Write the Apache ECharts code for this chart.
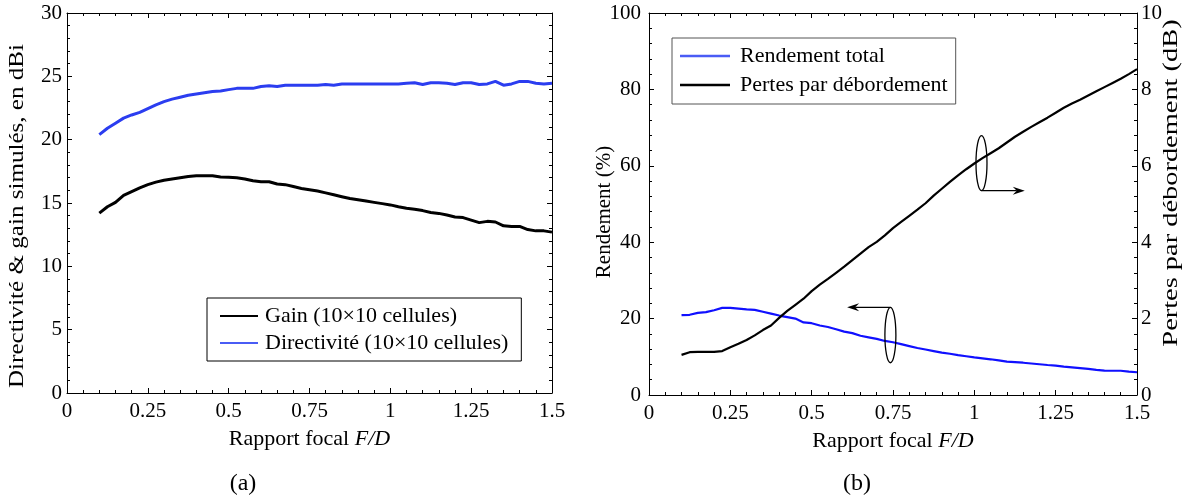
<!DOCTYPE html>
<html><head><meta charset="utf-8">
<script src="https://cdn.jsdelivr.net/npm/echarts@6/dist/echarts.min.js"></script>
<style>html,body{margin:0;padding:0;background:#fff}#c{width:1192px;height:499px}</style>
</head><body><div id="c"></div>
<script>
// ---- Panel (a) ----
const xA = [0.1,0.125,0.15,0.175,0.2,0.225,0.25,0.275,0.3,0.325,0.35,0.375,0.4,0.425,0.45,0.475,0.5,0.525,0.55,0.575,0.6,0.625,0.65,0.675,0.7,0.725,0.75,0.775,0.8,0.825,0.85,0.875,0.9,0.925,0.95,0.975,1.0,1.025,1.05,1.075,1.1,1.125,1.15,1.175,1.2,1.225,1.25,1.275,1.3,1.325,1.35,1.375,1.4,1.425,1.45,1.475,1.5];
const gain = [14.2,14.7,15.05,15.6,15.9,16.2,16.45,16.65,16.8,16.9,17.0,17.1,17.15,17.15,17.15,17.05,17.03,17.0,16.9,16.75,16.68,16.68,16.5,16.45,16.3,16.15,16.05,15.95,15.8,15.65,15.5,15.35,15.25,15.15,15.05,14.95,14.85,14.7,14.58,14.5,14.4,14.25,14.18,14.05,13.9,13.85,13.65,13.45,13.55,13.5,13.2,13.15,13.15,12.9,12.8,12.8,12.7];
const directivite = [20.4,20.9,21.3,21.7,21.95,22.15,22.45,22.75,23.0,23.2,23.35,23.5,23.6,23.7,23.8,23.85,23.95,24.05,24.05,24.05,24.2,24.25,24.2,24.3,24.3,24.3,24.3,24.3,24.35,24.3,24.4,24.4,24.4,24.4,24.4,24.4,24.4,24.4,24.45,24.5,24.35,24.5,24.5,24.45,24.35,24.5,24.5,24.35,24.4,24.6,24.3,24.4,24.6,24.6,24.45,24.4,24.45];
// ---- Panel (b) ----
const xB = [0.1,0.125,0.15,0.175,0.2,0.225,0.25,0.275,0.3,0.325,0.35,0.375,0.4,0.425,0.45,0.475,0.5,0.525,0.55,0.575,0.6,0.625,0.65,0.675,0.7,0.725,0.75,0.775,0.8,0.825,0.85,0.875,0.9,0.925,0.95,0.975,1.0,1.025,1.05,1.075,1.1,1.125,1.15,1.175,1.2,1.225,1.25,1.275,1.3,1.325,1.35,1.375,1.4,1.425,1.45,1.475,1.5];
const rendement = [20.9,21.0,21.5,21.7,22.2,22.8,22.8,22.6,22.4,22.3,21.8,21.3,20.8,20.4,20.0,19.0,18.8,18.2,17.8,17.2,16.6,16.2,15.5,15.1,14.7,14.15,13.8,13.3,12.8,12.3,11.9,11.5,11.1,10.8,10.45,10.15,9.85,9.6,9.35,9.05,8.75,8.6,8.45,8.25,8.05,7.85,7.7,7.45,7.25,7.05,6.85,6.6,6.4,6.35,6.35,6.1,5.95];
const pertes = [1.05,1.12,1.13,1.13,1.13,1.15,1.25,1.34,1.44,1.56,1.70,1.82,2.02,2.20,2.36,2.52,2.72,2.89,3.04,3.20,3.36,3.53,3.70,3.87,4.01,4.18,4.37,4.53,4.69,4.85,5.02,5.22,5.40,5.58,5.75,5.91,6.06,6.20,6.33,6.46,6.61,6.76,6.89,7.02,7.14,7.26,7.39,7.52,7.63,7.73,7.84,7.95,8.06,8.17,8.28,8.40,8.53];
// annotation anchors (data coordinates)
const annotPertes = {x: 1.022, y: 6.07, ry: 0.72, arrowX: 1.155};   // right axis
const annotRend = {x: 0.742, y: 15.7, ry: 7.26, arrowX: 0.609};     // left axis
// texts
const titleA = 'Directivité & gain simulés, en dBi';
const titleBLeft = 'Rendement (%)';
const titleBRight = 'Pertes par débordement (dB)';
const titleX = 'Rapport focal {i|F/D}';

const FONT = 'Liberation Serif';
const chart = echarts.init(document.getElementById('c'), null, {renderer: 'canvas'});

function xAxis(grid, pos, labels, name) {
  return {
    type: 'value', gridIndex: grid, position: pos, min: 0, max: 1.5, interval: 0.25,
    axisLine: {show: true, onZero: false, lineStyle: {color: '#000', width: 1}},
    axisTick: {show: true, inside: true, length: 5, lineStyle: {color: '#000'}},
    minorTick: {show: true, splitNumber: 5, length: 3, lineStyle: {color: '#000'}},
    splitLine: {show: false}, minorSplitLine: {show: false},
    axisLabel: {show: labels, margin: 8, color: '#000', fontFamily: FONT, fontSize: 21, showMinLabel: true, showMaxLabel: true},
    name: name || '', nameLocation: 'middle', nameGap: 35,
    nameTextStyle: {color: '#000', fontFamily: FONT, fontSize: 22,
      rich: {i: {fontStyle: 'italic', fontFamily: FONT, fontSize: 22, color: '#000'}}}
  };
}
function yAxis(grid, pos, min, max, interval, labels, margin) {
  return {
    type: 'value', gridIndex: grid, position: pos, min: min, max: max, interval: interval,
    axisLine: {show: true, onZero: false, lineStyle: {color: '#000', width: 1}},
    axisTick: {show: true, inside: true, length: 5, lineStyle: {color: '#000'}},
    minorTick: {show: true, splitNumber: 5, length: 3, lineStyle: {color: '#000'}},
    splitLine: {show: false}, minorSplitLine: {show: false},
    axisLabel: {show: labels, margin: margin || 5, color: '#000', fontFamily: FONT, fontSize: 21}
  };
}
const pairs = (xs, ys) => xs.map((x, i) => [x, ys[i]]);

const option = {
  backgroundColor: '#fff',
  animation: false,
  grid: [
    {left: 67, top: 13, width: 485, height: 380},
    {left: 649, top: 13, width: 488, height: 382}
  ],
  xAxis: [
    xAxis(0, 'bottom', true, titleX),
    xAxis(0, 'top', false),
    xAxis(1, 'bottom', true, titleX),
    xAxis(1, 'top', false)
  ],
  yAxis: [
    yAxis(0, 'left', 0, 30, 5, true, 5),
    yAxis(0, 'right', 0, 30, 5, false),
    yAxis(1, 'left', 0, 100, 20, true, 8),
    yAxis(1, 'right', 0, 10, 2, true, 4)
  ],
  legend: [
    {
      data: ['Gain (10×10 cellules)', 'Directivité (10×10 cellules)'],
      left: 207, top: 298, orient: 'vertical', itemGap: 5, itemWidth: 38, itemHeight: 14,
      padding: [7, 13, 7, 13], borderColor: '#000', borderWidth: 1, backgroundColor: '#fff',
      textStyle: {fontFamily: FONT, fontSize: 22, color: '#000', padding: [0, 0, 0, 2]}
    },
    {
      data: ['Rendement total', 'Pertes par débordement'],
      left: 672, top: 38, orient: 'vertical', itemGap: 7, itemWidth: 50, itemHeight: 14,
      padding: [7, 8, 8, 8], borderColor: '#555', borderWidth: 1, backgroundColor: '#fff',
      textStyle: {fontFamily: FONT, fontSize: 22, color: '#000', padding: [0, 0, 0, 5]}
    }
  ],
  series: [
    {name: 'Gain (10×10 cellules)', type: 'line', xAxisIndex: 0, yAxisIndex: 0, data: pairs(xA, gain),
     symbol: 'none', lineStyle: {color: '#000', width: 3}, itemStyle: {color: '#000'}},
    {name: 'Directivité (10×10 cellules)', type: 'line', xAxisIndex: 0, yAxisIndex: 0, data: pairs(xA, directivite),
     symbol: 'none', lineStyle: {color: '#2b3df0', width: 3}, itemStyle: {color: '#4a5cf5'}},
    {name: 'Rendement total', type: 'line', xAxisIndex: 2, yAxisIndex: 2, data: pairs(xB, rendement),
     symbol: 'none', lineStyle: {color: '#1010ff', width: 2.2}, itemStyle: {color: '#4a5cf5'}},
    {name: 'Pertes par débordement', type: 'line', xAxisIndex: 2, yAxisIndex: 3, data: pairs(xB, pertes),
     symbol: 'none', lineStyle: {color: '#000', width: 2.2}, itemStyle: {color: '#000'}}
  ]
};
option.legend.forEach(l => { l.icon = 'path://M0,6 L40,6 L40,8 L0,8 Z'; });
chart.setOption(option);

function arrowHead(x, y, dir) {
  const L = 12, W = 4, N = 8;
  return [[x, y], [x - dir * L, y - W], [x - dir * N, y], [x - dir * L, y + W]];
}
function annot(a, xi, yi, dir, fromTop) {
  const c = chart.convertToPixel({xAxisIndex: xi, yAxisIndex: yi}, [a.x, a.y]);
  const t = chart.convertToPixel({xAxisIndex: xi, yAxisIndex: yi}, [a.x, a.y + a.ry]);
  const e = chart.convertToPixel({xAxisIndex: xi, yAxisIndex: yi}, [a.arrowX, a.y]);
  const ryPx = c[1] - t[1];
  const ay = fromTop ? c[1] - ryPx : c[1] + ryPx;
  return [
    {type: 'ellipse', shape: {cx: c[0], cy: c[1], rx: 5.5, ry: ryPx}, style: {fill: 'none', stroke: '#000', lineWidth: 1.3}, z: 100},
    {type: 'line', shape: {x1: c[0], y1: ay, x2: e[0] - dir * 8, y2: ay}, style: {stroke: '#000', lineWidth: 1.3}, z: 100},
    {type: 'polygon', shape: {points: arrowHead(e[0], ay, dir)}, style: {fill: '#000'}, z: 100}
  ];
}
const g = [].concat(
  annot(annotPertes, 2, 3, 1, false),
  annot(annotRend, 2, 2, -1, true),
  [
    {type: 'text', x: 17, y: 216, rotation: Math.PI / 2, scaleX: 1.14,
     style: {text: titleA, font: '22px "Liberation Serif"', fill: '#000', align: 'center', verticalAlign: 'middle'}},
    {type: 'text', x: 604, y: 212, rotation: Math.PI / 2,
     style: {text: titleBLeft, font: '21px "Liberation Serif"', fill: '#000', align: 'center', verticalAlign: 'middle'}},
    {type: 'text', x: 1172, y: 183, rotation: Math.PI / 2, scaleX: 1.42,
     style: {text: titleBRight, font: '20px "Liberation Serif"', fill: '#000', align: 'center', verticalAlign: 'middle'}},
    {type: 'text', x: 243, y: 484, style: {text: '(a)', font: '24px "Liberation Serif"', fill: '#000', align: 'center', verticalAlign: 'middle'}},
    {type: 'text', x: 857, y: 484, style: {text: '(b)', font: '24px "Liberation Serif"', fill: '#000', align: 'center', verticalAlign: 'middle'}}
  ]
);
chart.setOption({graphic: g});
</script></body></html>
